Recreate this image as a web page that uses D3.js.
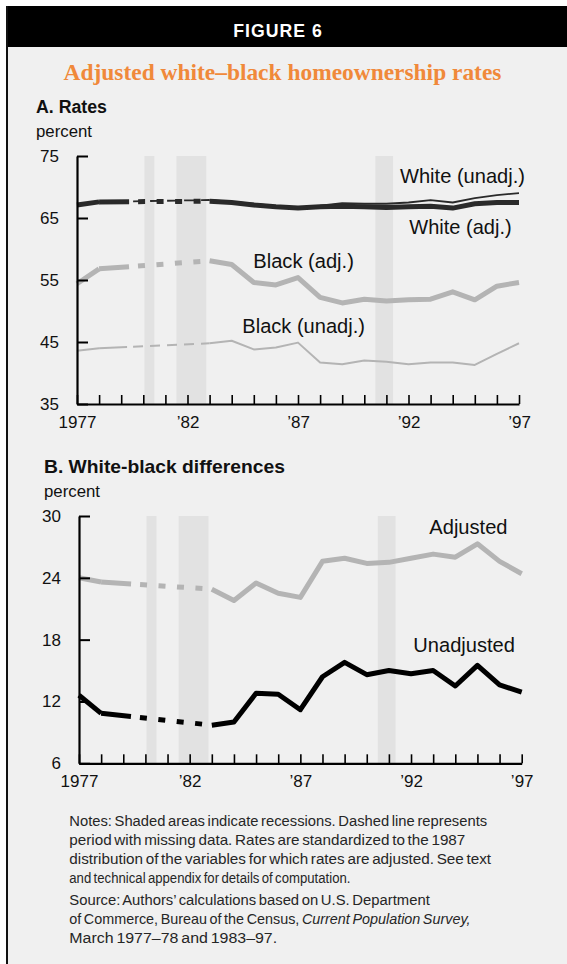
<!DOCTYPE html>
<html>
<head>
<meta charset="utf-8">
<script src="https://cdn.jsdelivr.net/npm/d3@7"></script>
<style>
  html, body { margin: 0; padding: 0; background: #ffffff; }
  svg { display: block; }
</style>
</head>
<body>
<svg id="chart" width="567" height="964"></svg>
<script>
// Survey years with data (March CPS, 1977–78 and 1983–97)
const years = [1977, 1978, 1983, 1984, 1985, 1986, 1987, 1988, 1989, 1990,
               1991, 1992, 1993, 1994, 1995, 1996, 1997];
const gapStart = 1978;
const gapEnd = 1983;

// NBER recessions, in fractional years
const recessions = [[1980.05, 1980.5], [1981.5, 1982.85], [1990.5, 1991.3]];

// Panel A: homeownership rates, percent
const whiteAdj   = [67.1, 67.6, 67.7, 67.5, 67.1, 66.8, 66.6, 66.8, 66.9, 66.8, 66.7, 66.8, 66.9, 66.6, 67.3, 67.5, 67.5];
const whiteUnadj = [67.0, 67.6, 67.9, 67.6, 67.3, 66.9, 66.7, 67.0, 67.4, 67.3, 67.3, 67.5, 67.9, 67.5, 68.2, 68.7, 69.0];
const blackAdj   = [54.4, 56.8, 58.1, 57.5, 54.6, 54.2, 55.4, 52.2, 51.3, 51.9, 51.6, 51.8, 51.9, 53.1, 51.8, 54.0, 54.6];
const blackUnadj = [43.6, 44.0, 44.8, 45.2, 43.8, 44.1, 44.9, 41.7, 41.4, 42.0, 41.8, 41.4, 41.7, 41.7, 41.3, 43.1, 44.8];

// Panel B: white–black differences, percentage points
const diffAdjusted   = [24.0, 23.6, 22.9, 21.8, 23.5, 22.5, 22.1, 25.6, 25.9, 25.4, 25.5, 25.9, 26.3, 26.0, 27.3, 25.6, 24.4];
const diffUnadjusted = [12.6, 10.85, 9.7, 10.0, 12.8, 12.7, 11.2, 14.4, 15.8, 14.6, 15.0, 14.7, 15.0, 13.5, 15.5, 13.6, 12.9];

// Axis ticks and labels
const rateTicks = [35, 45, 55, 65, 75];
const diffTicks = [6, 12, 18, 24, 30];
const labeledYears = [1977, 1982, 1987, 1992, 1997];
const yearTickLabels = ["1977", "\u201982", "\u201987", "\u201992", "\u201997"];

const SANS = "'Liberation Sans', Arial, Helvetica, sans-serif";
const SERIF = "'Liberation Serif', 'Times New Roman', serif";
const BG = "#f0f0f0";
const SHADE = "#e2e2e2";
const DARK = "#2a2a2a";
const GRAY = "#b4b4b4";

const svg = d3.select("#chart");

// Scale a text element's font size so it spans the given width
function fitWidth(sel, w) {
  const cur = sel.node().getComputedTextLength();
  const fs = parseFloat(sel.attr("font-size"));
  sel.attr("font-size", (fs * w / cur).toFixed(2));
  return sel;
}

// ---- Frame ----
svg.append("rect").attr("x", 6).attr("y", 6).attr("width", 561).attr("height", 958).attr("fill", BG);
svg.append("rect").attr("x", 6).attr("y", 6).attr("width", 561).attr("height", 41).attr("fill", "#000");
svg.append("line").attr("x1", 7).attr("x2", 7).attr("y1", 6).attr("y2", 964)
  .attr("stroke", "#111").attr("stroke-width", 2);

fitWidth(svg.append("text")
  .attr("x", 278).attr("y", 36.5).attr("text-anchor", "middle")
  .attr("font-family", SANS).attr("font-weight", 900).attr("font-size", 16.5)
  .attr("letter-spacing", "1px").attr("fill", "#fff")
  .text("FIGURE  6"), 90);

fitWidth(svg.append("text")
  .attr("x", 282.5).attr("y", 80).attr("text-anchor", "middle")
  .attr("font-family", SERIF).attr("font-weight", "bold").attr("font-size", 23)
  .attr("fill", "#f0893a")
  .text("Adjusted white\u2013black homeownership rates"), 438);

// ---- Panel drawing ----
function drawPanel(cfg) {
  const g = svg.append("g");
  const x = d3.scaleLinear().domain([1977, 1997]).range([cfg.x0, cfg.x1]);
  const y = d3.scaleLinear().domain(cfg.domain).range([cfg.yBottom, cfg.yTop]);

  // titles
  fitWidth(g.append("text").attr("x", cfg.titleX).attr("y", cfg.titleY)
    .attr("font-family", SANS).attr("font-weight", "bold").attr("font-size", 18)
    .attr("fill", "#111").text(cfg.title), cfg.titleW);
  fitWidth(g.append("text").attr("x", cfg.titleX).attr("y", cfg.titleY + 23.5)
    .attr("font-family", SANS).attr("font-size", 16.5)
    .attr("fill", "#111").text("percent"), 56);

  // recession shading
  g.append("g").selectAll("rect").data(recessions).join("rect")
    .attr("x", d => x(d[0])).attr("width", d => x(d[1]) - x(d[0]))
    .attr("y", y(cfg.domain[1])).attr("height", y(cfg.domain[0]) - y(cfg.domain[1]))
    .attr("fill", SHADE);

  // series: solid where observed, dashed across the missing years
  const line = d3.line().x(d => x(d.year)).y(d => y(d.value));
  cfg.series.forEach(s => {
    const pts = years.map((yr, i) => ({ year: yr, value: s.values[i] }));
    const before = pts.filter(p => p.year <= gapStart);
    const gap = pts.filter(p => p.year === gapStart || p.year === gapEnd);
    const after = pts.filter(p => p.year >= gapEnd);
    [before, after].forEach(seg => {
      g.append("path").attr("d", line(seg)).attr("fill", "none")
        .attr("stroke", s.color).attr("stroke-width", s.width)
        .attr("stroke-linejoin", "round").attr("stroke-linecap", "butt");
    });
    g.append("path").attr("d", line(gap)).attr("fill", "none")
      .attr("stroke", s.color).attr("stroke-width", s.width)
      .attr("stroke-dasharray", s.dash).attr("stroke-linecap", "butt");
  });

  // series labels
  cfg.labels.forEach(l => {
    fitWidth(g.append("text").attr("x", l.x).attr("y", l.y)
      .attr("font-family", SANS).attr("font-size", 19.5).attr("fill", "#111")
      .text(l.text), l.w);
  });

  // axes
  const xAxis = d3.axisBottom(x)
    .tickValues(d3.range(1977, 1998))
    .tickSize(-9).tickSizeOuter(0).tickPadding(12)
    .tickFormat(d => {
      const i = labeledYears.indexOf(d);
      return i >= 0 ? yearTickLabels[i] : "";
    });
  const gx = g.append("g").attr("transform", `translate(0,${cfg.yBottom})`).call(xAxis);
  gx.select(".domain").attr("stroke", "#000").attr("stroke-width", 2.2);
  gx.selectAll(".tick line").attr("stroke", "#000").attr("stroke-width", 1.6);
  gx.selectAll(".tick text").attr("font-family", SANS).attr("font-size", 17).attr("fill", "#111");

  const yAxis = d3.axisLeft(y).tickValues(cfg.ticks)
    .tickSize(-11).tickSizeOuter(0).tickPadding(18);
  const gy = g.append("g").attr("transform", `translate(${cfg.x0},0)`).call(yAxis);
  gy.select(".domain").attr("stroke", "#000").attr("stroke-width", 2.2);
  gy.selectAll(".tick line").attr("stroke", "#000").attr("stroke-width", 2);
  gy.selectAll(".tick text").attr("font-family", SANS).attr("font-size", 17).attr("fill", "#111");
}

const thickDash = "30,9,7,11.5,7,11.5,7,11.5,7,11.5,7,11.5,7,11.5,7,11.5";
const thinDash = "28,6,10,7,10,7,10,7,10,7,10,7,10,7,10,7";

drawPanel({
  title: "A. Rates", titleX: 36, titleY: 113, titleW: 71,
  x0: 77, x1: 519, yTop: 156, yBottom: 404, domain: [35, 75], ticks: rateTicks,
  series: [
    { values: blackUnadj, color: GRAY, width: 2, dash: thinDash },
    { values: blackAdj, color: GRAY, width: 5, dash: thickDash },
    { values: whiteAdj, color: DARK, width: 5, dash: thickDash },
    { values: whiteUnadj, color: DARK, width: 1.8, dash: thinDash }
  ],
  labels: [
    { text: "White (unadj.)", x: 400, y: 182.5, w: 125 },
    { text: "White (adj.)", x: 409.3, y: 234, w: 102.4 },
    { text: "Black (adj.)", x: 253.3, y: 267.7, w: 100.7 },
    { text: "Black (unadj.)", x: 242.3, y: 332.7, w: 122.7 }
  ]
});

drawPanel({
  title: "B. White-black differences", titleX: 44, titleY: 473, titleW: 241,
  x0: 79, x1: 521.7, yTop: 516, yBottom: 763.3, domain: [6, 30], ticks: diffTicks,
  series: [
    { values: diffAdjusted, color: GRAY, width: 5, dash: thickDash },
    { values: diffUnadjusted, color: "#000", width: 5, dash: thickDash }
  ],
  labels: [
    { text: "Adjusted", x: 429.3, y: 534.3, w: 78.3 },
    { text: "Unadjusted", x: 413.3, y: 652.3, w: 101.7 }
  ]
});

// ---- Notes and source ----
// Each line is set at one size with tight word spacing, then squeezed to its measure.
const noteLines = [
  { y: 825.5, w: 418, parts: [["Notes: Shaded areas indicate recessions. Dashed line represents", false]] },
  { y: 844.5, w: 396.3, parts: [["period with missing data. Rates are standardized to the 1987", false]] },
  { y: 863.5, w: 422.3, parts: [["distribution of the variables for which rates are adjusted. See text", false]] },
  { y: 882.5, w: 281.3, parts: [["and technical appendix for details of computation.", false]] },
  { y: 905, w: 360.7, parts: [["Source: Authors\u2019 calculations based on U.S. Department", false]] },
  { y: 924, w: 401.3, parts: [["of Commerce, Bureau of the Census, ", false], ["Current Population Survey,", true]] },
  { y: 942.5, w: 208, parts: [["March 1977\u201378 and 1983\u201397.", false]] }
];
noteLines.forEach(l => {
  const t = svg.append("text")
    .attr("font-family", SANS).attr("font-size", 15).attr("fill", "#262626")
    .attr("word-spacing", "-1.5px");
  l.parts.forEach(p => {
    t.append("tspan").attr("font-style", p[1] ? "italic" : "normal").text(p[0]);
  });
  const natural = t.node().getComputedTextLength();
  t.attr("transform", `translate(69.3,${l.y}) scale(${(l.w / natural).toFixed(4)},1)`);
});
</script>
</body>
</html>
